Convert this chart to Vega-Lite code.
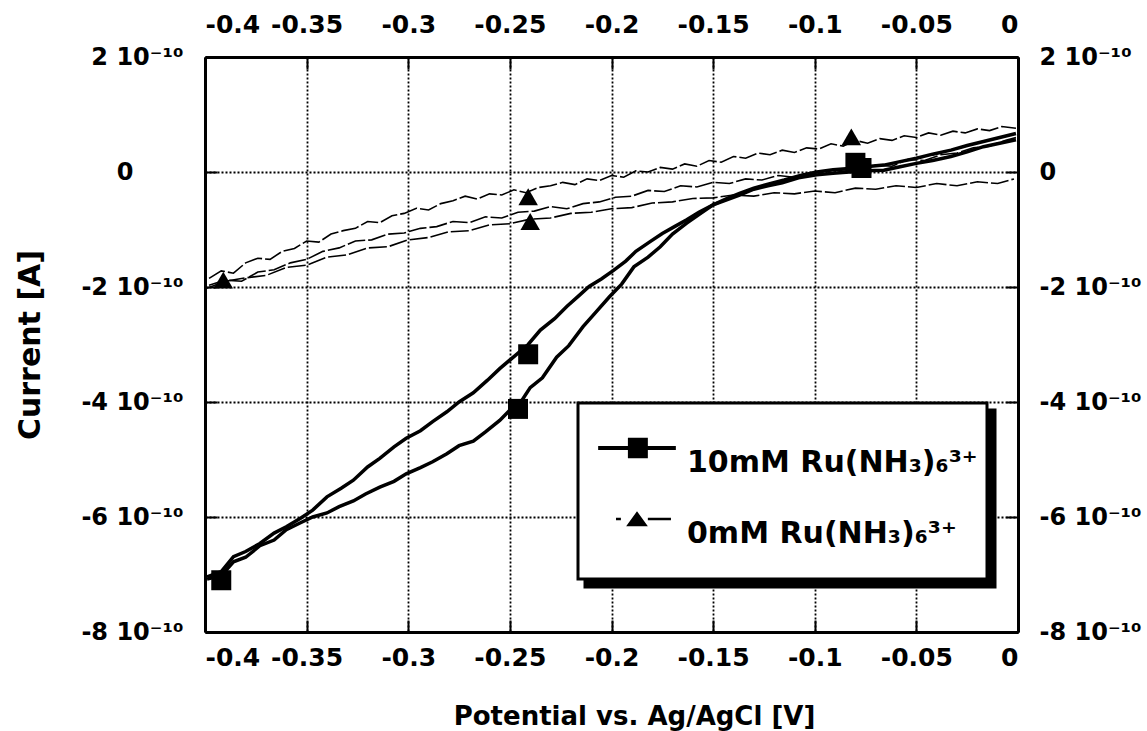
{
  "$schema": "https://vega.github.io/schema/vega-lite/v6.json",
  "width": 813,
  "height": 575,
  "autosize": {"type": "none"},
  "padding": {"left": 205, "top": 57, "right": 129, "bottom": 99},
  "background": "white",
  "config": {
    "view": {"stroke": null},
    "font": "DejaVu Sans",
    "legend": {"strokeWidth": 3},
    "axis": {
      "labelFont": "DejaVu Sans", "labelFontWeight": "bold", "labelFontSize": 25, "labelColor": "black",
      "titleFont": "DejaVu Sans", "titleFontWeight": "bold", "titleFontSize": 27, "titleColor": "black",
      "domainColor": "black", "domainWidth": 3,
      "tickColor": "black", "tickWidth": 2, "tickSize": -12,
      "gridColor": "black", "gridDash": [2, 2], "gridWidth": 1.8, "gridOpacity": 1,
      "labelOverlap": false, "labelBound": false
    }
  },
  "datasets": {
    "curves": [
      {"s":"10mM","t":"B","v":-0.399,"c":-7.08e-10},{"s":"10mM","t":"B","v":-0.392,"c":-7.02e-10},{"s":"10mM","t":"B","v":-0.386,"c":-6.78e-10},{"s":"10mM","t":"B","v":-0.380,"c":-6.70e-10},{"s":"10mM","t":"B","v":-0.373,"c":-6.50e-10},{"s":"10mM","t":"B","v":-0.366,"c":-6.40e-10},{"s":"10mM","t":"B","v":-0.360,"c":-6.22e-10},{"s":"10mM","t":"B","v":-0.353,"c":-6.10e-10},{"s":"10mM","t":"B","v":-0.347,"c":-6.00e-10},{"s":"10mM","t":"B","v":-0.340,"c":-5.93e-10},{"s":"10mM","t":"B","v":-0.334,"c":-5.82e-10},{"s":"10mM","t":"B","v":-0.327,"c":-5.72e-10},{"s":"10mM","t":"B","v":-0.321,"c":-5.60e-10},{"s":"10mM","t":"B","v":-0.314,"c":-5.48e-10},{"s":"10mM","t":"B","v":-0.307,"c":-5.38e-10},{"s":"10mM","t":"B","v":-0.301,"c":-5.25e-10},{"s":"10mM","t":"B","v":-0.294,"c":-5.14e-10},{"s":"10mM","t":"B","v":-0.288,"c":-5.04e-10},{"s":"10mM","t":"B","v":-0.281,"c":-4.90e-10},{"s":"10mM","t":"B","v":-0.275,"c":-4.76e-10},{"s":"10mM","t":"B","v":-0.268,"c":-4.68e-10},{"s":"10mM","t":"B","v":-0.262,"c":-4.52e-10},{"s":"10mM","t":"B","v":-0.255,"c":-4.32e-10},{"s":"10mM","t":"B","v":-0.250,"c":-4.14e-10},{"s":"10mM","t":"B","v":-0.245,"c":-4.02e-10},{"s":"10mM","t":"B","v":-0.240,"c":-3.75e-10},{"s":"10mM","t":"B","v":-0.234,"c":-3.58e-10},{"s":"10mM","t":"B","v":-0.227,"c":-3.22e-10},{"s":"10mM","t":"B","v":-0.221,"c":-3.02e-10},{"s":"10mM","t":"B","v":-0.214,"c":-2.69e-10},{"s":"10mM","t":"B","v":-0.208,"c":-2.45e-10},{"s":"10mM","t":"B","v":-0.201,"c":-2.17e-10},{"s":"10mM","t":"B","v":-0.195,"c":-1.95e-10},{"s":"10mM","t":"B","v":-0.189,"c":-1.65e-10},{"s":"10mM","t":"B","v":-0.182,"c":-1.48e-10},{"s":"10mM","t":"B","v":-0.176,"c":-1.30e-10},{"s":"10mM","t":"B","v":-0.170,"c":-1.08e-10},{"s":"10mM","t":"B","v":-0.163,"c":-0.89e-10},{"s":"10mM","t":"B","v":-0.157,"c":-0.74e-10},{"s":"10mM","t":"B","v":-0.150,"c":-0.57e-10},{"s":"10mM","t":"B","v":-0.143,"c":-0.48e-10},{"s":"10mM","t":"B","v":-0.137,"c":-0.40e-10},{"s":"10mM","t":"B","v":-0.130,"c":-0.30e-10},{"s":"10mM","t":"B","v":-0.123,"c":-0.24e-10},{"s":"10mM","t":"B","v":-0.116,"c":-0.19e-10},{"s":"10mM","t":"B","v":-0.108,"c":-0.10e-10},{"s":"10mM","t":"B","v":-0.099,"c":-0.05e-10},{"s":"10mM","t":"B","v":-0.091,"c":-0.02e-10},{"s":"10mM","t":"B","v":-0.083,"c":0.00},{"s":"10mM","t":"B","v":-0.075,"c":0.02e-10},{"s":"10mM","t":"B","v":-0.066,"c":0.03e-10},{"s":"10mM","t":"B","v":-0.058,"c":0.09e-10},{"s":"10mM","t":"B","v":-0.050,"c":0.15e-10},{"s":"10mM","t":"B","v":-0.042,"c":0.20e-10},{"s":"10mM","t":"B","v":-0.033,"c":0.27e-10},{"s":"10mM","t":"B","v":-0.025,"c":0.35e-10},{"s":"10mM","t":"B","v":-0.017,"c":0.44e-10},{"s":"10mM","t":"B","v":-0.009,"c":0.50e-10},{"s":"10mM","t":"B","v":-0.001,"c":0.56e-10},
      {"s":"10mM","t":"A","v":-0.399,"c":-7.04e-10},{"s":"10mM","t":"A","v":-0.392,"c":-6.95e-10},{"s":"10mM","t":"A","v":-0.386,"c":-6.69e-10},{"s":"10mM","t":"A","v":-0.380,"c":-6.60e-10},{"s":"10mM","t":"A","v":-0.373,"c":-6.46e-10},{"s":"10mM","t":"A","v":-0.366,"c":-6.28e-10},{"s":"10mM","t":"A","v":-0.360,"c":-6.17e-10},{"s":"10mM","t":"A","v":-0.353,"c":-6.02e-10},{"s":"10mM","t":"A","v":-0.347,"c":-5.88e-10},{"s":"10mM","t":"A","v":-0.340,"c":-5.65e-10},{"s":"10mM","t":"A","v":-0.333,"c":-5.50e-10},{"s":"10mM","t":"A","v":-0.327,"c":-5.36e-10},{"s":"10mM","t":"A","v":-0.320,"c":-5.13e-10},{"s":"10mM","t":"A","v":-0.314,"c":-4.98e-10},{"s":"10mM","t":"A","v":-0.307,"c":-4.78e-10},{"s":"10mM","t":"A","v":-0.301,"c":-4.63e-10},{"s":"10mM","t":"A","v":-0.294,"c":-4.50e-10},{"s":"10mM","t":"A","v":-0.288,"c":-4.34e-10},{"s":"10mM","t":"A","v":-0.281,"c":-4.17e-10},{"s":"10mM","t":"A","v":-0.275,"c":-4.00e-10},{"s":"10mM","t":"A","v":-0.268,"c":-3.84e-10},{"s":"10mM","t":"A","v":-0.261,"c":-3.62e-10},{"s":"10mM","t":"A","v":-0.255,"c":-3.42e-10},{"s":"10mM","t":"A","v":-0.248,"c":-3.21e-10},{"s":"10mM","t":"A","v":-0.241,"c":-3.00e-10},{"s":"10mM","t":"A","v":-0.235,"c":-2.75e-10},{"s":"10mM","t":"A","v":-0.228,"c":-2.55e-10},{"s":"10mM","t":"A","v":-0.222,"c":-2.34e-10},{"s":"10mM","t":"A","v":-0.216,"c":-2.15e-10},{"s":"10mM","t":"A","v":-0.211,"c":-1.99e-10},{"s":"10mM","t":"A","v":-0.205,"c":-1.86e-10},{"s":"10mM","t":"A","v":-0.199,"c":-1.71e-10},{"s":"10mM","t":"A","v":-0.193,"c":-1.55e-10},{"s":"10mM","t":"A","v":-0.188,"c":-1.38e-10},{"s":"10mM","t":"A","v":-0.181,"c":-1.21e-10},{"s":"10mM","t":"A","v":-0.175,"c":-1.07e-10},{"s":"10mM","t":"A","v":-0.169,"c":-0.95e-10},{"s":"10mM","t":"A","v":-0.163,"c":-0.83e-10},{"s":"10mM","t":"A","v":-0.157,"c":-0.70e-10},{"s":"10mM","t":"A","v":-0.150,"c":-0.57e-10},{"s":"10mM","t":"A","v":-0.143,"c":-0.46e-10},{"s":"10mM","t":"A","v":-0.137,"c":-0.37e-10},{"s":"10mM","t":"A","v":-0.130,"c":-0.28e-10},{"s":"10mM","t":"A","v":-0.123,"c":-0.21e-10},{"s":"10mM","t":"A","v":-0.115,"c":-0.14e-10},{"s":"10mM","t":"A","v":-0.107,"c":-0.06e-10},{"s":"10mM","t":"A","v":-0.099,"c":0.00},{"s":"10mM","t":"A","v":-0.091,"c":0.04e-10},{"s":"10mM","t":"A","v":-0.083,"c":0.06e-10},{"s":"10mM","t":"A","v":-0.075,"c":0.09e-10},{"s":"10mM","t":"A","v":-0.066,"c":0.12e-10},{"s":"10mM","t":"A","v":-0.058,"c":0.18e-10},{"s":"10mM","t":"A","v":-0.050,"c":0.24e-10},{"s":"10mM","t":"A","v":-0.042,"c":0.31e-10},{"s":"10mM","t":"A","v":-0.033,"c":0.38e-10},{"s":"10mM","t":"A","v":-0.025,"c":0.46e-10},{"s":"10mM","t":"A","v":-0.017,"c":0.53e-10},{"s":"10mM","t":"A","v":-0.009,"c":0.60e-10},{"s":"10mM","t":"A","v":-0.001,"c":0.67e-10},
      {"s":"0mM","t":"T1","v":-0.398,"c":-1.85e-10},{"s":"0mM","t":"T1","v":-0.392,"c":-1.72e-10},{"s":"0mM","t":"T1","v":-0.386,"c":-1.76e-10},{"s":"0mM","t":"T1","v":-0.380,"c":-1.58e-10},{"s":"0mM","t":"T1","v":-0.374,"c":-1.50e-10},{"s":"0mM","t":"T1","v":-0.368,"c":-1.52e-10},{"s":"0mM","t":"T1","v":-0.362,"c":-1.38e-10},{"s":"0mM","t":"T1","v":-0.356,"c":-1.33e-10},{"s":"0mM","t":"T1","v":-0.350,"c":-1.20e-10},{"s":"0mM","t":"T1","v":-0.344,"c":-1.22e-10},{"s":"0mM","t":"T1","v":-0.338,"c":-1.08e-10},{"s":"0mM","t":"T1","v":-0.332,"c":-1.02e-10},{"s":"0mM","t":"T1","v":-0.326,"c":-0.98e-10},{"s":"0mM","t":"T1","v":-0.320,"c":-0.86e-10},{"s":"0mM","t":"T1","v":-0.314,"c":-0.88e-10},{"s":"0mM","t":"T1","v":-0.308,"c":-0.76e-10},{"s":"0mM","t":"T1","v":-0.302,"c":-0.72e-10},{"s":"0mM","t":"T1","v":-0.296,"c":-0.63e-10},{"s":"0mM","t":"T1","v":-0.290,"c":-0.66e-10},{"s":"0mM","t":"T1","v":-0.284,"c":-0.55e-10},{"s":"0mM","t":"T1","v":-0.278,"c":-0.50e-10},{"s":"0mM","t":"T1","v":-0.272,"c":-0.42e-10},{"s":"0mM","t":"T1","v":-0.266,"c":-0.47e-10},{"s":"0mM","t":"T1","v":-0.260,"c":-0.38e-10},{"s":"0mM","t":"T1","v":-0.254,"c":-0.40e-10},{"s":"0mM","t":"T1","v":-0.248,"c":-0.31e-10},{"s":"0mM","t":"T1","v":-0.242,"c":-0.36e-10},{"s":"0mM","t":"T1","v":-0.236,"c":-0.27e-10},{"s":"0mM","t":"T1","v":-0.230,"c":-0.24e-10},{"s":"0mM","t":"T1","v":-0.224,"c":-0.18e-10},{"s":"0mM","t":"T1","v":-0.218,"c":-0.22e-10},{"s":"0mM","t":"T1","v":-0.212,"c":-0.12e-10},{"s":"0mM","t":"T1","v":-0.206,"c":-0.15e-10},{"s":"0mM","t":"T1","v":-0.200,"c":-0.06e-10},{"s":"0mM","t":"T1","v":-0.194,"c":-0.09e-10},{"s":"0mM","t":"T1","v":-0.188,"c":0.02e-10},{"s":"0mM","t":"T1","v":-0.182,"c":0.00},{"s":"0mM","t":"T1","v":-0.176,"c":0.08e-10},{"s":"0mM","t":"T1","v":-0.170,"c":0.05e-10},{"s":"0mM","t":"T1","v":-0.164,"c":0.14e-10},{"s":"0mM","t":"T1","v":-0.158,"c":0.10e-10},{"s":"0mM","t":"T1","v":-0.152,"c":0.20e-10},{"s":"0mM","t":"T1","v":-0.146,"c":0.17e-10},{"s":"0mM","t":"T1","v":-0.140,"c":0.27e-10},{"s":"0mM","t":"T1","v":-0.134,"c":0.24e-10},{"s":"0mM","t":"T1","v":-0.128,"c":0.33e-10},{"s":"0mM","t":"T1","v":-0.122,"c":0.30e-10},{"s":"0mM","t":"T1","v":-0.116,"c":0.38e-10},{"s":"0mM","t":"T1","v":-0.110,"c":0.34e-10},{"s":"0mM","t":"T1","v":-0.104,"c":0.42e-10},{"s":"0mM","t":"T1","v":-0.098,"c":0.40e-10},{"s":"0mM","t":"T1","v":-0.092,"c":0.49e-10},{"s":"0mM","t":"T1","v":-0.086,"c":0.45e-10},{"s":"0mM","t":"T1","v":-0.080,"c":0.55e-10},{"s":"0mM","t":"T1","v":-0.074,"c":0.50e-10},{"s":"0mM","t":"T1","v":-0.068,"c":0.58e-10},{"s":"0mM","t":"T1","v":-0.062,"c":0.55e-10},{"s":"0mM","t":"T1","v":-0.056,"c":0.63e-10},{"s":"0mM","t":"T1","v":-0.050,"c":0.60e-10},{"s":"0mM","t":"T1","v":-0.044,"c":0.68e-10},{"s":"0mM","t":"T1","v":-0.038,"c":0.64e-10},{"s":"0mM","t":"T1","v":-0.032,"c":0.71e-10},{"s":"0mM","t":"T1","v":-0.026,"c":0.68e-10},{"s":"0mM","t":"T1","v":-0.020,"c":0.75e-10},{"s":"0mM","t":"T1","v":-0.014,"c":0.72e-10},{"s":"0mM","t":"T1","v":-0.008,"c":0.79e-10},{"s":"0mM","t":"T1","v":-0.001,"c":0.76e-10},
      {"s":"0mM","t":"T2","v":-0.398,"c":-1.97e-10},{"s":"0mM","t":"T2","v":-0.390,"c":-1.88e-10},{"s":"0mM","t":"T2","v":-0.382,"c":-1.90e-10},{"s":"0mM","t":"T2","v":-0.374,"c":-1.74e-10},{"s":"0mM","t":"T2","v":-0.366,"c":-1.70e-10},{"s":"0mM","t":"T2","v":-0.358,"c":-1.58e-10},{"s":"0mM","t":"T2","v":-0.350,"c":-1.52e-10},{"s":"0mM","t":"T2","v":-0.342,"c":-1.38e-10},{"s":"0mM","t":"T2","v":-0.334,"c":-1.32e-10},{"s":"0mM","t":"T2","v":-0.326,"c":-1.20e-10},{"s":"0mM","t":"T2","v":-0.318,"c":-1.18e-10},{"s":"0mM","t":"T2","v":-0.310,"c":-1.08e-10},{"s":"0mM","t":"T2","v":-0.302,"c":-1.06e-10},{"s":"0mM","t":"T2","v":-0.294,"c":-0.98e-10},{"s":"0mM","t":"T2","v":-0.286,"c":-0.95e-10},{"s":"0mM","t":"T2","v":-0.278,"c":-0.86e-10},{"s":"0mM","t":"T2","v":-0.270,"c":-0.88e-10},{"s":"0mM","t":"T2","v":-0.262,"c":-0.78e-10},{"s":"0mM","t":"T2","v":-0.254,"c":-0.80e-10},{"s":"0mM","t":"T2","v":-0.246,"c":-0.70e-10},{"s":"0mM","t":"T2","v":-0.238,"c":-0.68e-10},{"s":"0mM","t":"T2","v":-0.230,"c":-0.60e-10},{"s":"0mM","t":"T2","v":-0.222,"c":-0.64e-10},{"s":"0mM","t":"T2","v":-0.214,"c":-0.55e-10},{"s":"0mM","t":"T2","v":-0.206,"c":-0.52e-10},{"s":"0mM","t":"T2","v":-0.198,"c":-0.44e-10},{"s":"0mM","t":"T2","v":-0.190,"c":-0.42e-10},{"s":"0mM","t":"T2","v":-0.182,"c":-0.32e-10},{"s":"0mM","t":"T2","v":-0.174,"c":-0.34e-10},{"s":"0mM","t":"T2","v":-0.166,"c":-0.24e-10},{"s":"0mM","t":"T2","v":-0.158,"c":-0.26e-10},{"s":"0mM","t":"T2","v":-0.150,"c":-0.18e-10},{"s":"0mM","t":"T2","v":-0.142,"c":-0.20e-10},{"s":"0mM","t":"T2","v":-0.134,"c":-0.12e-10},{"s":"0mM","t":"T2","v":-0.126,"c":-0.14e-10},{"s":"0mM","t":"T2","v":-0.118,"c":-0.06e-10},{"s":"0mM","t":"T2","v":-0.110,"c":-0.09e-10},{"s":"0mM","t":"T2","v":-0.102,"c":-0.02e-10},{"s":"0mM","t":"T2","v":-0.094,"c":-0.04e-10},{"s":"0mM","t":"T2","v":-0.086,"c":0.04e-10},{"s":"0mM","t":"T2","v":-0.078,"c":0.02e-10},{"s":"0mM","t":"T2","v":-0.070,"c":0.12e-10},{"s":"0mM","t":"T2","v":-0.062,"c":0.10e-10},{"s":"0mM","t":"T2","v":-0.054,"c":0.22e-10},{"s":"0mM","t":"T2","v":-0.046,"c":0.20e-10},{"s":"0mM","t":"T2","v":-0.038,"c":0.30e-10},{"s":"0mM","t":"T2","v":-0.030,"c":0.33e-10},{"s":"0mM","t":"T2","v":-0.022,"c":0.42e-10},{"s":"0mM","t":"T2","v":-0.014,"c":0.45e-10},{"s":"0mM","t":"T2","v":-0.006,"c":0.55e-10},{"s":"0mM","t":"T2","v":-0.001,"c":0.60e-10},
      {"s":"0mM","t":"T3","v":-0.399,"c":-2.02e-10},{"s":"0mM","t":"T3","v":-0.390,"c":-1.90e-10},{"s":"0mM","t":"T3","v":-0.380,"c":-1.84e-10},{"s":"0mM","t":"T3","v":-0.370,"c":-1.80e-10},{"s":"0mM","t":"T3","v":-0.360,"c":-1.66e-10},{"s":"0mM","t":"T3","v":-0.350,"c":-1.62e-10},{"s":"0mM","t":"T3","v":-0.340,"c":-1.48e-10},{"s":"0mM","t":"T3","v":-0.330,"c":-1.44e-10},{"s":"0mM","t":"T3","v":-0.320,"c":-1.32e-10},{"s":"0mM","t":"T3","v":-0.310,"c":-1.30e-10},{"s":"0mM","t":"T3","v":-0.300,"c":-1.18e-10},{"s":"0mM","t":"T3","v":-0.290,"c":-1.14e-10},{"s":"0mM","t":"T3","v":-0.280,"c":-1.04e-10},{"s":"0mM","t":"T3","v":-0.270,"c":-1.02e-10},{"s":"0mM","t":"T3","v":-0.260,"c":-0.92e-10},{"s":"0mM","t":"T3","v":-0.250,"c":-0.90e-10},{"s":"0mM","t":"T3","v":-0.240,"c":-0.82e-10},{"s":"0mM","t":"T3","v":-0.230,"c":-0.80e-10},{"s":"0mM","t":"T3","v":-0.220,"c":-0.72e-10},{"s":"0mM","t":"T3","v":-0.210,"c":-0.70e-10},{"s":"0mM","t":"T3","v":-0.200,"c":-0.64e-10},{"s":"0mM","t":"T3","v":-0.190,"c":-0.62e-10},{"s":"0mM","t":"T3","v":-0.180,"c":-0.54e-10},{"s":"0mM","t":"T3","v":-0.170,"c":-0.52e-10},{"s":"0mM","t":"T3","v":-0.160,"c":-0.46e-10},{"s":"0mM","t":"T3","v":-0.150,"c":-0.45e-10},{"s":"0mM","t":"T3","v":-0.140,"c":-0.40e-10},{"s":"0mM","t":"T3","v":-0.130,"c":-0.42e-10},{"s":"0mM","t":"T3","v":-0.120,"c":-0.36e-10},{"s":"0mM","t":"T3","v":-0.110,"c":-0.38e-10},{"s":"0mM","t":"T3","v":-0.100,"c":-0.33e-10},{"s":"0mM","t":"T3","v":-0.090,"c":-0.36e-10},{"s":"0mM","t":"T3","v":-0.080,"c":-0.28e-10},{"s":"0mM","t":"T3","v":-0.070,"c":-0.30e-10},{"s":"0mM","t":"T3","v":-0.060,"c":-0.24e-10},{"s":"0mM","t":"T3","v":-0.050,"c":-0.27e-10},{"s":"0mM","t":"T3","v":-0.040,"c":-0.20e-10},{"s":"0mM","t":"T3","v":-0.030,"c":-0.24e-10},{"s":"0mM","t":"T3","v":-0.020,"c":-0.17e-10},{"s":"0mM","t":"T3","v":-0.010,"c":-0.20e-10},{"s":"0mM","t":"T3","v":-0.002,"c":-0.12e-10}
    ],
    "markers": [
      {"s":"10mM","v":-0.392,"c":-7.10e-10},{"s":"10mM","v":-0.241,"c":-3.17e-10},{"s":"10mM","v":-0.246,"c":-4.12e-10},{"s":"10mM","v":-0.080,"c":0.16e-10},{"s":"10mM","v":-0.077,"c":0.07e-10},
      {"s":"0mM","v":-0.391,"c":-1.88e-10},{"s":"0mM","v":-0.240,"c":-0.86e-10},{"s":"0mM","v":-0.241,"c":-0.43e-10},{"s":"0mM","v":-0.082,"c":0.61e-10},{"s":"0mM","v":-0.079,"c":0.16e-10}
    ]
  },
  "layer": [
    {
      "data": {"name": "curves"},
      "transform": [{"filter": "datum.s == '0mM'"}],
      "mark": {"type": "line", "color": "black", "strokeWidth": 1.6, "strokeDash": [18, 3], "clip": true},
      "encoding": {
        "x": {"field": "v", "type": "quantitative", "scale": {"domain": [-0.4, 0], "nice": false, "zero": false},
          "axis": {"orient": "bottom", "values": [-0.4, -0.35, -0.3, -0.25, -0.2, -0.15, -0.1, -0.05, 0], "labelExpr": "datum.value == 0 ? '0' : '' + datum.value", "grid": true, "labelPadding": 25, "title": "Potential vs. Ag/AgCl [V]", "titleFontSize": 26, "titlePadding": 33, "titleX": 429}},
        "y": {"field": "c", "type": "quantitative", "scale": {"domain": [-8e-10, 2e-10], "nice": false, "zero": false},
          "axis": {"orient": "left", "values": [-8e-10, -6e-10, -4e-10, -2e-10, 0, 2e-10], "labelExpr": "datum.value == 0 ? '0\u00a0\u00a0\u00a0\u00a0\u00a0\u00a0\u200b' : round(datum.value * 1e10) + ' 10\u207b\u00b9\u2070'", "labelFontSize": 24, "grid": true, "labelPadding": 34, "title": "Current [A]", "titleFontSize": 30, "titlePadding": 35}},
        "detail": {"field": "t", "type": "nominal"}
      }
    },
    {
      "data": {"name": "curves"},
      "transform": [{"filter": "datum.s == '10mM'"}],
      "mark": {"type": "line", "color": "black", "strokeWidth": 3.5, "clip": true},
      "encoding": {
        "x": {"field": "v", "type": "quantitative",
          "axis": {"orient": "top", "values": [-0.4, -0.35, -0.3, -0.25, -0.2, -0.15, -0.1, -0.05, 0], "labelExpr": "datum.value == 0 ? '0' : '' + datum.value", "grid": false, "labelPadding": 32, "title": null}},
        "y": {"field": "c", "type": "quantitative",
          "axis": {"orient": "right", "values": [-8e-10, -6e-10, -4e-10, -2e-10, 0, 2e-10], "labelExpr": "datum.value == 0 ? '0' : round(datum.value * 1e10) + ' 10\u207b\u00b9\u2070'", "labelFontSize": 24, "grid": false, "labelPadding": 33, "title": null}},
        "detail": {"field": "t", "type": "nominal"}
      }
    },
    {
      "data": {"name": "markers"},
      "transform": [{"filter": "datum.s == '10mM'"}],
      "mark": {"type": "point", "shape": "square", "filled": true, "color": "black", "opacity": 1, "size": 400},
      "encoding": {
        "x": {"field": "v", "type": "quantitative", "axis": null},
        "y": {"field": "c", "type": "quantitative", "axis": null}
      }
    },
    {
      "data": {"name": "markers"},
      "transform": [{"filter": "datum.s == '0mM'"}],
      "mark": {"type": "point", "shape": "triangle-up", "filled": true, "color": "black", "opacity": 1, "size": 380},
      "encoding": {
        "x": {"field": "v", "type": "quantitative", "axis": null},
        "y": {"field": "c", "type": "quantitative", "axis": null}
      }
    },
    {
      "data": {"name": "markers"},
      "transform": [{"filter": "false"}],
      "mark": {"type": "point", "filled": true, "color": "black", "opacity": 1},
      "encoding": {
        "strokeDash": {"field": "s", "type": "nominal",
          "scale": {"domain": ["shadow-a", "shadow-b"]},
          "legend": {
            "orient": "none", "legendX": 380, "legendY": 353,
            "title": null, "columns": 2, "columnPadding": 54, "padding": 0, "labelOffset": 0,
            "symbolSize": 29929, "symbolFillColor": "black", "symbolStrokeColor": "black",
            "labelExpr": "''", "labelFontSize": 1,
            "strokeColor": "black", "fillColor": "black"
          }
        }
      }
    },
    {
      "data": {"name": "markers"},
      "transform": [{"filter": "false"}],
      "mark": {"type": "point", "filled": true, "color": "black", "opacity": 1},
      "encoding": {
        "shape": {"field": "s", "type": "nominal",
          "scale": {"domain": ["10mM", "0mM"], "range": ["M-0.71,-0.057H1.51V0.057H-0.71ZM0.14,-0.29H0.71V0.29H0.14Z", "M-0.2,-0.037H-0.06V0.037H-0.2ZM0.71,-0.037H1.37V0.037H0.71ZM0.09,0.21L0.4,-0.22L0.71,0.21Z"]},
          "legend": {
            "orient": "none", "legendX": 373, "legendY": 346,
            "title": "\u00a0", "titleOrient": "bottom", "titleFontSize": 14, "titlePadding": 7,
            "padding": 9, "rowPadding": 5, "labelOffset": 28, "labelBaseline": "top",
            "symbolSize": 4900, "symbolFillColor": "black", "symbolStrokeColor": "black", "symbolOpacity": 1,
            "labelFont": "DejaVu Sans", "labelFontWeight": "bold", "labelFontSize": 30, "labelColor": "black", "labelLimit": 500,
            "strokeColor": "black", "fillColor": "white",
            "labelExpr": "datum.label == '10mM' ? '10mM Ru(NH\u2083)\u2086\u00b3\u207a' : '0mM Ru(NH\u2083)\u2086\u00b3\u207a'"
          }
        }
      }
    }
  ],
  "resolve": {"axis": {"x": "independent", "y": "independent"}}
}
